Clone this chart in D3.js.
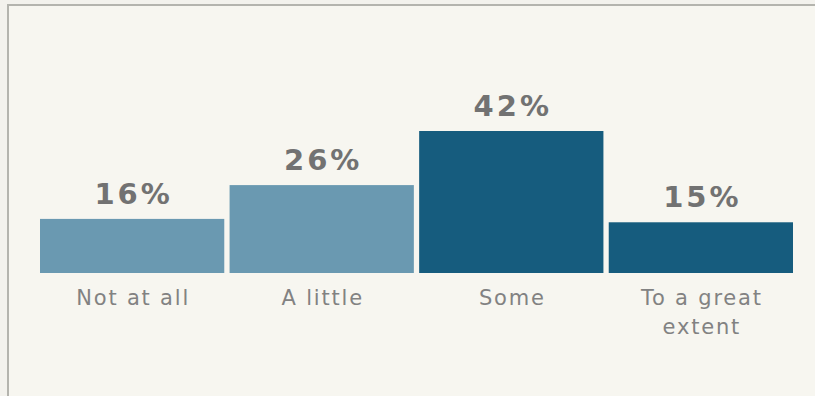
<!DOCTYPE html>
<html>
<head>
<meta charset="utf-8">
<script src="https://cdn.jsdelivr.net/npm/d3@7"></script>
<style>
  html, body { margin: 0; padding: 0; background: #f3f2ed; }
  svg { display: block; }
</style>
</head>
<body>
<svg id="chart" width="815" height="396"></svg>
<script>
const categories = ["Not at all", "A little", "Some", "To a great extent"];
const labelLines = [["Not at all"], ["A little"], ["Some"], ["To a great", "extent"]];
const values = [16, 26, 42, 15];
const valueLabels = ["16%", "26%", "42%", "15%"];
const barColors = ["#6a99b1", "#6a99b1", "#165c7e", "#165c7e"];

const svg = d3.select("#chart");

// panel with border (top and left)
svg.append("rect").attr("x", 8).attr("y", 5).attr("width", 815).attr("height", 400)
  .attr("fill", "#f7f6f0");
svg.append("line").attr("x1", 7).attr("x2", 815).attr("y1", 5).attr("y2", 5)
  .attr("stroke", "#b4b4ae").attr("stroke-width", 2);
svg.append("line").attr("x1", 8).attr("x2", 8).attr("y1", 4).attr("y2", 396)
  .attr("stroke", "#b4b4ae").attr("stroke-width", 2);

const x = d3.scaleBand().domain(categories).range([40, 793])
  .paddingInner(0.028).paddingOuter(0);
const y = d3.scaleLinear().domain([0, 42]).range([273, 131]);

const g = svg.append("g");

g.selectAll("rect.bar").data(values).join("rect")
  .attr("class", "bar")
  .attr("x", (d, i) => x(categories[i]))
  .attr("width", x.bandwidth())
  .attr("y", d => y(d))
  .attr("height", d => y(0) - y(d))
  .attr("fill", (d, i) => barColors[i]);

g.selectAll("text.val").data(values).join("text")
  .attr("class", "val")
  .attr("x", (d, i) => x(categories[i]) + x.bandwidth() / 2 + 1.5)
  .attr("y", d => y(d) - 15)
  .attr("text-anchor", "middle")
  .attr("font-family", "DejaVu Sans, sans-serif")
  .attr("font-weight", "bold")
  .attr("font-size", 29)
  .attr("letter-spacing", 3)
  .attr("fill", "#727272")
  .text((d, i) => valueLabels[i]);

const labels = g.selectAll("text.cat").data(categories).join("text")
  .attr("class", "cat")
  .attr("x", d => x(d) + x.bandwidth() / 2 + 1)
  .attr("y", y(0) + 32)
  .attr("text-anchor", "middle")
  .attr("font-family", "DejaVu Sans, sans-serif")
  .attr("font-size", 21)
  .attr("letter-spacing", 1.8)
  .attr("fill", "#828282");
labels.each(function(d, i) {
  d3.select(this).selectAll("tspan").data(labelLines[i]).join("tspan")
    .attr("x", x(d) + x.bandwidth() / 2 + 1)
    .attr("dy", (t, j) => j === 0 ? 0 : 29)
    .text(t => t);
});
</script>
</body>
</html>
